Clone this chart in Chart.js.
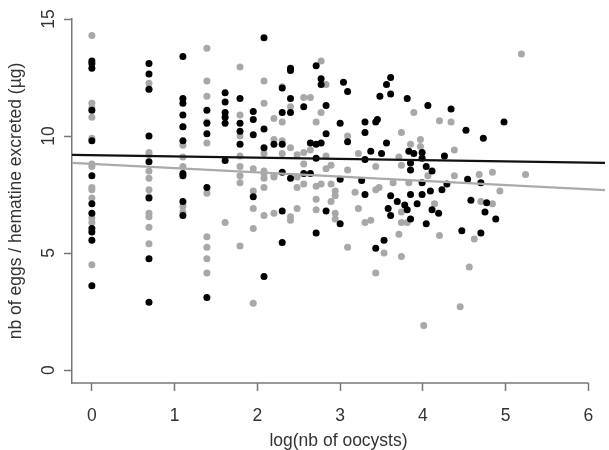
<!DOCTYPE html>
<html>
<head>
<meta charset="utf-8">
<script src="https://cdn.jsdelivr.net/npm/chart.js@4"></script>
<style>
  html, body { margin: 0; padding: 0; background: #fff; }
</style>
</head>
<body>
<canvas id="eggsChart" width="609" height="450"></canvas>
<script>
// black points (one group per x column)
const blackX = [
  0, 0, 0, 0, 0, 0, 0, 0, 0, 0, 0, 0,
  0.69, 0.69, 0.69, 0.69, 0.69, 0.69, 0.69, 0.69,
  1.10, 1.10, 1.10, 1.10, 1.10, 1.10, 1.10, 1.10, 1.10, 1.10,
  1.39, 1.39, 1.39, 1.39, 1.39,
  1.61, 1.61, 1.61, 1.61, 1.61, 1.61,
  1.79, 1.79, 1.79, 1.79,
  1.95, 1.95, 1.95, 1.95,
  2.08, 2.08, 2.08, 2.08,
  2.20,
  2.30, 2.30, 2.30, 2.30, 2.30, 2.30,
  2.40, 2.40, 2.40, 2.40, 2.40,
  2.56, 2.56, 2.64, 2.64,
  2.71, 2.71, 2.71, 2.71,
  2.77, 2.77, 2.77,
  2.83, 2.83, 2.83,
  3.00, 3.00, 3.00, 3.04, 3.09, 3.09, 3.26,
  3.30, 3.30, 3.30, 3.30, 3.37, 3.43, 3.43, 3.45, 3.48, 3.50, 3.53,
  3.56, 3.56, 3.58, 3.61, 3.61, 3.61, 3.61, 3.69, 3.78, 3.81, 3.81, 3.83,
  3.85, 3.85, 3.85, 3.85, 3.89, 3.93, 3.99, 3.99, 3.99, 3.99,
  4.04, 4.04, 4.06, 4.09, 4.11, 4.11, 4.19, 4.23, 4.26, 4.29, 4.34,
  4.47, 4.52, 4.54, 4.58, 4.70, 4.70, 4.73, 4.75, 4.77, 4.88, 4.98
];
const blackY = [
  13.2, 13.1, 12.9, 11.1, 9.8, 8.3, 7.1, 6.7, 6.05, 5.9, 5.55, 3.6,
  13.1, 12.65, 12.0, 10.0, 8.9, 7.35, 4.75, 2.9,
  13.4, 11.6, 11.4, 10.9, 10.4, 9.8, 8.4, 8.3, 7.2, 6.6,
  11.1, 10.55, 10.1, 7.8, 3.1,
  11.85, 11.45, 11.0, 10.8, 10.55, 8.95,
  11.6, 10.55, 10.2, 9.65,
  11.05, 10.7, 10.05, 7.4,
  14.2, 10.3, 9.5, 4.0,
  9.65,
  12.05, 11.0, 9.65, 8.45, 6.8, 5.45,
  12.9, 12.8, 11.6, 11.0, 8.2,
  11.25, 8.4, 9.7, 8.4,
  13.0, 9.65, 9.05, 5.85,
  12.45, 12.2, 9.7,
  11.3, 10.1, 6.8,
  10.55, 8.15, 6.25, 12.3, 11.9, 9.75, 8.1,
  10.6, 10.15, 9.0, 7.5, 9.35, 10.6, 5.2, 10.7, 11.7, 9.25, 5.55,
  9.7, 12.2, 6.9, 12.5, 11.8, 7.45, 6.6, 7.2, 7.05, 11.6, 6.85, 9.35,
  8.85, 8.55, 7.5, 6.45, 9.25, 7.1, 9.3, 9.05, 8.0, 7.5,
  8.7, 6.25, 11.3, 7.65, 8.5, 6.85, 6.7, 7.7, 9.15, 7.95, 11.15,
  5.95, 10.25, 8.15, 7.25, 8.0, 5.85, 9.9, 6.75, 7.15, 6.45, 10.6
];

// grey points
const greyX = [
  0, 0, 0, 0, 0, 0, 0, 0, 0, 0, 0, 0, 0,
  0.69, 0.69, 0.69, 0.69, 0.69, 0.69, 0.69, 0.69, 0.69, 0.69, 0.69, 0.69,
  1.10, 1.10, 1.10, 1.10, 1.10, 1.10,
  1.39, 1.39, 1.39, 1.39, 1.39, 1.39, 1.39, 1.39, 1.39, 1.39,
  1.61,
  1.79, 1.79, 1.79, 1.79, 1.79, 1.79, 1.79, 1.79,
  1.95, 1.95, 1.95, 1.95, 1.95,
  2.08, 2.08, 2.08, 2.08, 2.08, 2.08, 2.08, 2.08,
  2.20, 2.20, 2.20, 2.20, 2.20,
  2.30, 2.30, 2.30, 2.30,
  2.40, 2.40, 2.40, 2.40,
  2.48, 2.48, 2.48, 2.48,
  2.56, 2.56, 2.56, 2.56,
  2.64, 2.64,
  2.71, 2.71, 2.71, 2.71,
  2.77, 2.77, 2.77,
  2.83, 2.83, 2.83,
  2.89, 2.89, 2.89,
  2.94, 2.94, 2.94, 2.94,
  3.09, 3.09, 3.09, 3.18, 3.22, 3.22, 3.30, 3.37,
  3.43, 3.43, 3.43, 3.47, 3.53, 3.64, 3.71, 3.71,
  3.74, 3.74, 3.74, 3.74, 3.74, 3.81, 3.83, 3.85, 3.89, 3.97, 3.97, 4.01,
  4.06, 4.14, 4.20, 4.20, 4.34, 4.38, 4.38, 4.45, 4.56, 4.62, 4.68, 4.70,
  4.84, 4.84, 4.93, 5.19, 5.24
];
const greyY = [
  14.3, 11.4, 11.2, 10.8, 9.9, 8.8, 8.7, 7.8, 7.7, 7.35, 6.5, 6.3, 4.5,
  12.25, 12.0, 9.3, 9.2, 8.5, 8.2, 7.7, 7.4, 6.7, 6.55, 6.1, 5.4,
  10.4, 9.6, 9.1, 8.7, 7.0, 6.75,
  13.75, 12.35, 11.7, 10.6, 9.7, 7.55, 5.7, 5.25, 4.75, 4.15,
  6.3,
  12.95, 10.9, 10.0, 9.15, 8.7, 8.3, 8.0, 5.3,
  8.6, 7.65, 6.9, 6.05, 2.85,
  12.35, 11.4, 9.25, 8.5, 8.4, 8.2, 7.8, 6.6,
  10.75, 9.85, 8.3, 8.25, 6.7,
  12.1, 10.6, 9.8, 9.25,
  11.25, 9.5, 6.55, 6.4,
  9.2, 8.25, 7.8, 6.9,
  11.65, 9.3, 8.8, 7.95,
  11.65, 9.4,
  10.6, 7.85, 7.3, 6.85,
  13.2, 11.0, 7.95,
  12.2, 9.15, 8.6,
  8.75, 7.95, 7.2,
  7.65, 7.45, 6.7, 6.45,
  10.0, 8.55, 5.25, 7.6, 9.25, 6.9, 6.3, 6.4,
  8.7, 7.7, 4.15, 7.8, 5.0, 8.0, 9.1, 5.8,
  10.15, 8.75, 6.75, 6.3, 4.85, 6.3, 8.0, 9.65, 11.0, 9.85, 9.55, 1.9,
  8.3, 7.1, 10.65, 5.75, 10.6, 9.4, 8.3, 2.7, 4.4, 5.6, 8.35, 7.2,
  8.45, 7.1, 7.65, 13.5, 8.35
];

// fitted lines, read at the left and right edges of the plot
const fitX = [-0.24, 6.2];
const blackFit = [9.19, 8.85];
const greyFit = [8.85, 7.69];

const xTickLabels = ['0', '1', '2', '3', '4', '5', '6'];
const yTickValues = [0, 5, 10, 15];
const yTickLabels = ['0', '5', '10', '15'];

const toPoints = (xs, ys) => xs.map((x, i) => ({ x: x, y: ys[i] }));

const font = { family: "'Liberation Sans', Arial, sans-serif", size: 17.5 };
const ink = '#333';
const axisGrey = '#777';

// R style axes: y labels turned sideways, bottom line stops at the last tick
const rAxes = {
  id: 'rAxes',
  afterDraw(chart) {
    const { ctx, chartArea } = chart;
    const x = chart.scales.x;
    const y = chart.scales.y;
    ctx.save();
    ctx.strokeStyle = axisGrey;
    ctx.lineWidth = 1.5;
    ctx.beginPath();
    ctx.moveTo(chartArea.left - 0.75, chartArea.bottom);
    ctx.lineTo(x.getPixelForValue(6), chartArea.bottom);
    ctx.stroke();

    ctx.font = font.size + 'px ' + font.family;
    ctx.fillStyle = ink;
    ctx.textAlign = 'center';
    ctx.textBaseline = 'middle';
    yTickValues.forEach((v, i) => {
      ctx.save();
      ctx.translate(y.right - 23, y.getPixelForValue(v));
      ctx.rotate(-Math.PI / 2);
      ctx.fillText(yTickLabels[i], 0, 0);
      ctx.restore();
    });
    ctx.restore();
  }
};

new Chart(document.getElementById('eggsChart'), {
  type: 'scatter',
  data: {
    datasets: [
      {
        type: 'line',
        data: toPoints(fitX, blackFit),
        borderColor: '#111',
        borderWidth: 2.2,
        pointRadius: 0,
        fill: false
      },
      {
        type: 'line',
        data: toPoints(fitX, greyFit),
        borderColor: '#aaa',
        borderWidth: 2.2,
        pointRadius: 0,
        fill: false
      },
      {
        data: toPoints(blackX, blackY),
        backgroundColor: '#000',
        borderWidth: 0,
        pointRadius: 3.5
      },
      {
        data: toPoints(greyX, greyY),
        backgroundColor: '#a8a8a8',
        borderWidth: 0,
        pointRadius: 3.5
      }
    ]
  },
  options: {
    responsive: false,
    animation: false,
    layout: { padding: { top: 19, right: 0, left: 0, bottom: 0 } },
    plugins: { legend: { display: false }, tooltip: { enabled: false } },
    scales: {
      x: {
        type: 'linear',
        min: -0.24,
        max: 6.2,
        afterFit: s => { s.height = 67; },
        border: { display: false },
        grid: { drawOnChartArea: false, drawTicks: true, tickLength: 8, tickColor: axisGrey, tickWidth: 1.5 },
        ticks: {
          stepSize: 1,
          includeBounds: false,
          padding: 15,
          maxRotation: 0,
          color: ink,
          font: font,
          callback: v => xTickLabels[v]
        },
        title: {
          display: true,
          text: 'log(nb of oocysts)',
          color: ink,
          font: font,
          padding: { top: 0, bottom: -2 }
        }
      },
      y: {
        type: 'linear',
        min: -0.555,
        max: 15,
        afterFit: s => { s.width = 72; },
        border: { color: axisGrey, width: 1.5 },
        grid: { drawOnChartArea: false, drawTicks: true, tickLength: 8, tickColor: axisGrey, tickWidth: 1.5 },
        ticks: {
          stepSize: 5,
          includeBounds: false,
          display: false
        },
        title: {
          display: true,
          text: 'nb of eggs / hematine excreted (µg)',
          color: ink,
          font: font,
          padding: { top: 6, bottom: 0 }
        }
      }
    }
  },
  plugins: [rAxes]
});
</script>
</body>
</html>
